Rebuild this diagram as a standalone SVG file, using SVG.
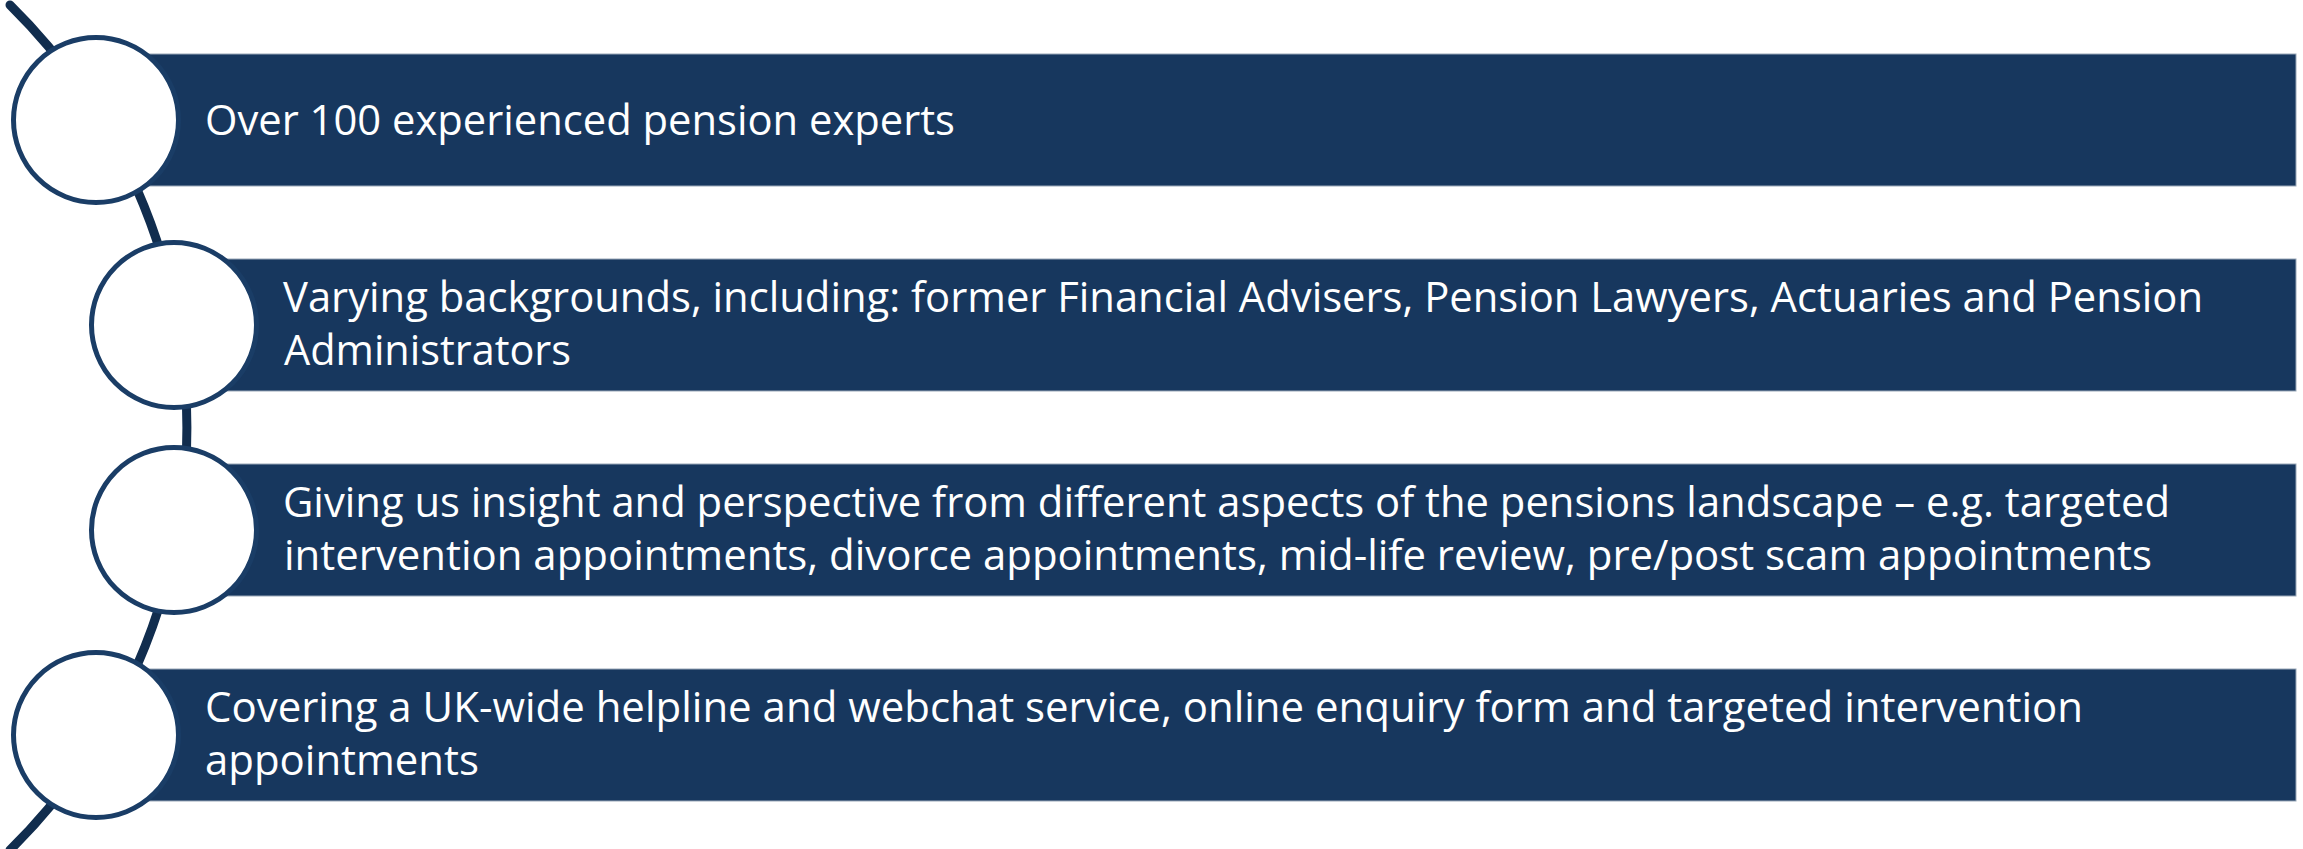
<svg xmlns="http://www.w3.org/2000/svg" width="2303" height="849" viewBox="0 0 2303 849">
  <style>
    .bar { fill: #17375E; stroke: #9aa8b8; stroke-width: 1; }
    .dot { fill: #FFFFFF; stroke: #1A3D66; stroke-width: 5; }
    .lbl { fill: #FFFFFF; font-family: "Open Sans", "Liberation Sans", sans-serif; font-size: 42px; }
    .arc { fill: none; stroke: #112D4E; stroke-width: 9; stroke-linecap: round; }
  </style>
  <rect width="2303" height="849" fill="#FFFFFF"/>
  <g id="connectors">
    <path class="arc" d="M 10 5 A 593 593 0 0 1 10 850"/>
  </g>
  <g id="node1">
    <rect class="bar" x="96" y="54" width="2200" height="132"/>
    <circle class="dot" cx="96" cy="120" r="82.5"/>
    <text class="lbl" x="205" y="134.5" textLength="750" lengthAdjust="spacingAndGlyphs">Over 100 experienced pension experts</text>
  </g>
  <g id="node2">
    <rect class="bar" x="174" y="259" width="2122" height="132"/>
    <circle class="dot" cx="174" cy="325" r="82.5"/>
    <text class="lbl" x="283" y="312" textLength="1920" lengthAdjust="spacingAndGlyphs">Varying backgrounds, including: former Financial Advisers, Pension Lawyers, Actuaries and Pension</text>
    <text class="lbl" x="284" y="364.5" textLength="287" lengthAdjust="spacingAndGlyphs">Administrators</text>
  </g>
  <g id="node3">
    <rect class="bar" x="174" y="464" width="2122" height="132"/>
    <circle class="dot" cx="174" cy="530" r="82.5"/>
    <text class="lbl" x="283" y="517" textLength="1887" lengthAdjust="spacingAndGlyphs">Giving us insight and perspective from different aspects of the pensions landscape – e.g. targeted</text>
    <text class="lbl" x="284" y="569.5" textLength="1868" lengthAdjust="spacingAndGlyphs">intervention appointments, divorce appointments, mid-life review, pre/post scam appointments</text>
  </g>
  <g id="node4">
    <rect class="bar" x="96" y="669" width="2200" height="132"/>
    <circle class="dot" cx="96" cy="735" r="82.5"/>
    <text class="lbl" x="205" y="722" textLength="1878" lengthAdjust="spacingAndGlyphs">Covering a UK-wide helpline and webchat service, online enquiry form and targeted intervention</text>
    <text class="lbl" x="205" y="774.5" textLength="274" lengthAdjust="spacingAndGlyphs">appointments</text>
  </g>
</svg>
